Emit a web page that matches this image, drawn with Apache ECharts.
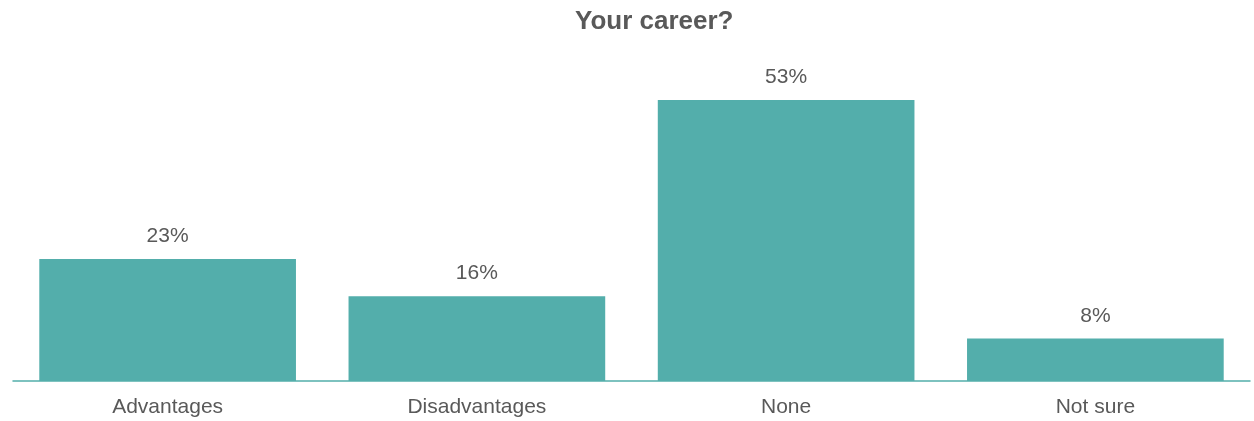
<!DOCTYPE html>
<html>
<head>
<meta charset="utf-8">
<script src="https://cdn.jsdelivr.net/npm/echarts@6/dist/echarts.min.js"></script>
<style>
  html, body {margin: 0; padding: 0; background: #fff;}
  #chart {width: 1254px; height: 421px;}
</style>
</head>
<body>
<div id="chart"></div>
<script>
const categories = ['Advantages', 'Disadvantages', 'None', 'Not sure'];
const values = [23, 16, 53, 8];

let chart = echarts.init(document.getElementById('chart'));
chart.setOption({
    animation: false,
    textStyle: {fontFamily: 'Liberation Sans, Arial, sans-serif'},
    title: {
        text: 'Your career?',
        left: 575,
        top: 9,
        padding: 0,
        textStyle: {
            fontSize: 26,
            fontWeight: 'bold',
            color: '#595959',
            fontFamily: 'Liberation Sans, Arial, sans-serif'
        }
    },
    grid: {
        left: 13,
        right: 4,
        top: 63,
        bottom: 40,
        containLabel: false
    },
    xAxis: {
        type: 'category',
        data: categories,
        axisLine: {lineStyle: {color: '#53AEAB', width: 1.5}},
        axisTick: {show: false},
        axisLabel: {
            fontSize: 21,
            color: '#595959',
            margin: 16
        }
    },
    yAxis: {
        type: 'value',
        min: 0,
        max: 60,
        show: false,
        splitLine: {show: false}
    },
    series: [
        {
            type: 'bar',
            data: values,
            barCategoryGap: '17%',
            itemStyle: {color: '#53AEAB'},
            label: {
                show: true,
                position: 'top',
                distance: 12,
                fontSize: 21,
                color: '#595959',
                formatter: '{c}%'
            }
        }
    ]
});
</script>
</body>
</html>
